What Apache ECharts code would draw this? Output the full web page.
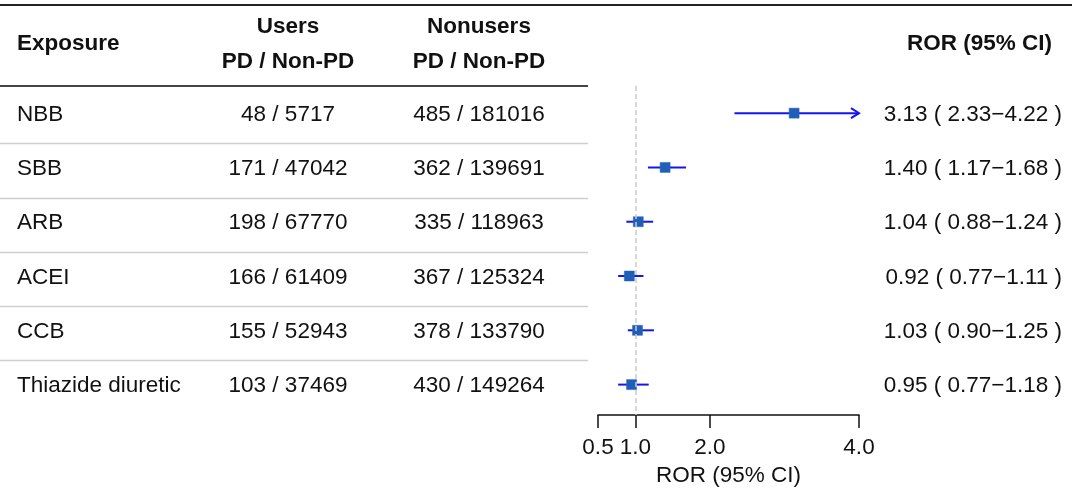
<!DOCTYPE html>
<html>
<head>
    <meta charset="UTF-8">
    <title>Forest plot</title>
    <script src="https://cdn.jsdelivr.net/npm/echarts@6/dist/echarts.min.js"></script>
    <style>
        html, body { margin: 0; padding: 0; background: #fff; }
        #main { width: 1072px; height: 491px; }
    </style>
</head>
<body>
<div id="main"></div>
<script>
    var exposures = ['NBB', 'SBB', 'ARB', 'ACEI', 'CCB', 'Thiazide diuretic'];
    var usersPD = [48, 171, 198, 166, 155, 103];
    var usersNonPD = [5717, 47042, 67770, 61409, 52943, 37469];
    var nonusersPD = [485, 362, 335, 367, 378, 430];
    var nonusersNonPD = [181016, 139691, 118963, 125324, 133790, 149264];
    var ror = [3.13, 1.40, 1.04, 0.92, 1.03, 0.95];
    var rorLow = [2.33, 1.17, 0.88, 0.77, 0.90, 0.77];
    var rorHigh = [4.22, 1.68, 1.24, 1.11, 1.25, 1.18];
    var xTicks = [0.5, 1.0, 2.0, 4.0];
    var xMin = 0.5, xMax = 4.0;
    var yMin = -0.5, yMax = 5.56;

    var FONT = '"Liberation Sans", Arial, sans-serif';
    var FS = 22.5;
    // column anchors of the table (pixels)
    var colExposure = 17, colUsers = 288, colNonusers = 479, colRor = 1062, tableRight = 588;
    var textDy = 1.5;   // glyph centre vs em-box middle
    var sepDy = 3;      // separators sit a little under the row midpoint

    var rows = [];
    for (var i = 0; i < exposures.length; i++) {
        rows.push([i]);
    }
    var forestData = [];
    for (var i = 0; i < ror.length; i++) {
        forestData.push([ror[i], rorLow[i], rorHigh[i], i]);
    }

    function txt(x, y, s, align, bold) {
        return {
            type: 'text',
            style: {
                x: x, y: y, text: s, fill: '#111', font: (bold ? 'bold ' : '') + FS + 'px ' + FONT,
                align: align, verticalAlign: 'middle'
            }
        };
    }

    // table rows: text columns + separators, placed by the row scale
    function renderTable(params, api) {
        var i = api.value(0);
        var y = api.coord([0, i])[1] + textDy;
        var yBelow = Math.round(api.coord([0, i + 0.5])[1] + sepDy) + 0.5;
        var kids = [
            txt(colExposure, y, exposures[i], 'left'),
            txt(colUsers, y, usersPD[i] + ' / ' + usersNonPD[i], 'center'),
            txt(colNonusers, y, nonusersPD[i] + ' / ' + nonusersNonPD[i], 'center'),
            txt(colRor, y, ror[i].toFixed(2) + ' ( ' + rorLow[i].toFixed(2) + '\u2212' + rorHigh[i].toFixed(2) + ' )', 'right')
        ];
        if (i < exposures.length - 1) {
            kids.push({type: 'line', shape: {x1: 0, y1: yBelow, x2: tableRight, y2: yBelow},
                style: {stroke: '#cfcfcf', lineWidth: 1.5}});
        }
        return {type: 'group', children: kids};
    }

    // CI line + square marker, arrow when CI runs past the axis
    function renderForest(params, api) {
        var i = api.value(3);
        var hi = api.value(2);
        var pMid = api.coord([api.value(0), i]);
        var pLo = api.coord([api.value(1), i]);
        var pHi = api.coord([Math.min(hi, xMax), i]);
        var kids = [{
            type: 'line',
            shape: {x1: pLo[0], y1: pMid[1], x2: pHi[0], y2: pMid[1]},
            style: {stroke: '#1515f0', lineWidth: 2}
        }];
        if (hi > xMax) {
            kids.push({
                type: 'polyline',
                shape: {points: [[pHi[0] - 8, pMid[1] - 5], [pHi[0], pMid[1]], [pHi[0] - 8, pMid[1] + 5]]},
                style: {stroke: '#1515f0', lineWidth: 2, fill: null}
            });
        }
        var s = 10;
        kids.push({
            type: 'rect',
            shape: {x: pMid[0] - s / 2, y: pMid[1] - s / 2, width: s, height: s},
            style: {fill: '#1f5fb8', stroke: '#2a66c0', lineWidth: 0.5}
        });
        return {type: 'group', children: kids};
    }

    var yAxisCfg = {type: 'value', inverse: true, min: yMin, max: yMax, show: false};
    var boldFont = 'bold ' + FS + 'px ' + FONT;

    var option = {
        animation: false,
        backgroundColor: '#fff',
        textStyle: {fontFamily: FONT},
        grid: [
            {left: 598, right: 1072 - 859, top: 86, bottom: 491 - 415, outerBoundsMode: 'none', containLabel: false},
            {left: 0, right: 0, top: 86, bottom: 491 - 415, outerBoundsMode: 'none', containLabel: false}
        ],
        xAxis: [
            {
                gridIndex: 0, type: 'value', min: xMin, max: xMax,
                axisLine: {show: true, onZero: false, lineStyle: {color: '#111', width: 1.5}},
                axisTick: {show: true, customValues: xTicks, length: 13, lineStyle: {color: '#111', width: 1.5}},
                axisLabel: {customValues: xTicks, formatter: function (v) { return v.toFixed(1); },
                    fontSize: FS, color: '#111', margin: 21, fontFamily: FONT},
                splitLine: {show: false},
                name: 'ROR (95% CI)', nameLocation: 'middle', nameGap: 49,
                nameTextStyle: {fontSize: FS, color: '#111', fontFamily: FONT}
            },
            {gridIndex: 1, type: 'value', min: 0, max: 1072, show: false}
        ],
        yAxis: [
            Object.assign({gridIndex: 0}, yAxisCfg),
            Object.assign({gridIndex: 1}, yAxisCfg)
        ],
        graphic: [
            {type: 'line', shape: {x1: 0, y1: 5, x2: 1072, y2: 5}, style: {stroke: '#222', lineWidth: 2}},
            {type: 'line', shape: {x1: 0, y1: 86, x2: tableRight, y2: 86}, style: {stroke: '#444', lineWidth: 2}},
            {type: 'text', x: colExposure, y: 44, style: {text: 'Exposure', font: boldFont, fill: '#111', align: 'left', verticalAlign: 'middle'}},
            {type: 'text', x: colUsers, y: 27, style: {text: 'Users', font: boldFont, fill: '#111', align: 'center', verticalAlign: 'middle'}},
            {type: 'text', x: colUsers, y: 62, style: {text: 'PD / Non-PD', font: boldFont, fill: '#111', align: 'center', verticalAlign: 'middle'}},
            {type: 'text', x: colNonusers, y: 27, style: {text: 'Nonusers', font: boldFont, fill: '#111', align: 'center', verticalAlign: 'middle'}},
            {type: 'text', x: colNonusers, y: 62, style: {text: 'PD / Non-PD', font: boldFont, fill: '#111', align: 'center', verticalAlign: 'middle'}},
            {type: 'text', x: 1052, y: 44, style: {text: 'ROR (95% CI)', font: boldFont, fill: '#111', align: 'right', verticalAlign: 'middle'}}
        ],
        series: [
            {
                type: 'scatter', xAxisIndex: 0, yAxisIndex: 0, data: [], silent: true,
                markLine: {
                    silent: true, symbol: 'none', animation: false,
                    label: {show: false},
                    lineStyle: {type: [5, 3], color: '#cccccc', width: 1.5},
                    data: [[{coord: [1, yMin]}, {coord: [1, yMax]}]]
                }
            },
            {
                type: 'custom', xAxisIndex: 0, yAxisIndex: 0, clip: false,
                data: forestData, renderItem: renderForest
            },
            {
                type: 'custom', xAxisIndex: 1, yAxisIndex: 1, clip: false,
                data: rows, renderItem: renderTable
            }
        ]
    };

    var chart = echarts.init(document.getElementById('main'), null, {renderer: 'canvas'});
    chart.setOption(option);
</script>
</body>
</html>
